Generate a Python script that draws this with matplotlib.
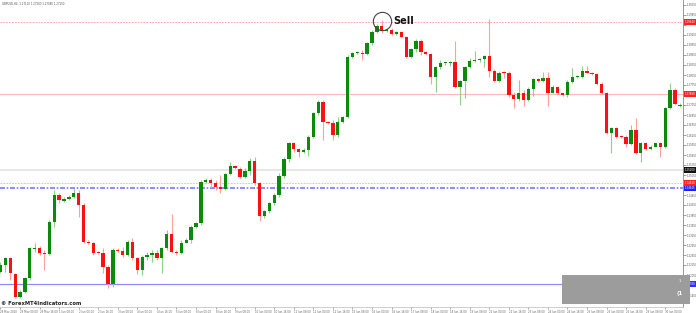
import matplotlib
matplotlib.use("Agg")
import matplotlib.pyplot as plt
import matplotlib.transforms as mtransforms
from matplotlib.patches import Rectangle

# ---------------- data (GBPUSD, H4) ----------------
opens = [1.2215, 1.2235, 1.2255, 1.2208, 1.2140, 1.2155, 1.2195, 1.2283, 1.2287, 1.2272,
         1.2268, 1.2365, 1.2445, 1.2428, 1.2432, 1.2440, 1.2452, 1.2415, 1.2305, 1.2300,
         1.2272, 1.2270, 1.2230, 1.2178, 1.2280, 1.2278, 1.2265, 1.2305, 1.2255, 1.2220,
         1.2260, 1.2265, 1.2272, 1.2255, 1.2285, 1.2328, 1.2275, 1.2270, 1.2302, 1.2310,
         1.2350, 1.2360, 1.2485, 1.2490, 1.2482, 1.2470, 1.2463, 1.2507, 1.2532, 1.2522,
         1.2500, 1.2518, 1.2547, 1.2480, 1.2382, 1.2396, 1.2420, 1.2445, 1.2502, 1.2552,
         1.2602, 1.2582, 1.2575, 1.2580, 1.2620, 1.2690, 1.2725, 1.2665, 1.2660, 1.2625,
         1.2665, 1.2678, 1.2860, 1.2870, 1.2872, 1.2868, 1.2900, 1.2935, 1.2952, 1.2937,
         1.2940, 1.2928, 1.2935, 1.2920, 1.2858, 1.2882, 1.2908, 1.2875, 1.2868, 1.2800,
         1.2828, 1.2840, 1.2842, 1.2845, 1.2768, 1.2787, 1.2828, 1.2848, 1.2850, 1.2852,
         1.2862, 1.2817, 1.2788, 1.2812, 1.2810, 1.2745, 1.2733, 1.2752, 1.2730, 1.2762,
         1.2792, 1.2788, 1.2795, 1.2752, 1.2770, 1.2750, 1.2744, 1.2785, 1.2798, 1.2800,
         1.2818, 1.2812, 1.2808, 1.2778, 1.2752, 1.2632, 1.2645, 1.2620, 1.2618, 1.2598,
         1.2640, 1.2572, 1.2602, 1.2582, 1.2590, 1.2600, 1.2588, 1.2705, 1.2760, 1.2711]
highs = [1.2245, 1.2260, 1.2260, 1.2212, 1.2160, 1.2200, 1.2290, 1.2300, 1.2292, 1.2280,
         1.2370, 1.2460, 1.2450, 1.2440, 1.2445, 1.2465, 1.2460, 1.2420, 1.2310, 1.2305,
         1.2278, 1.2285, 1.2235, 1.2285, 1.2285, 1.2288, 1.2310, 1.2315, 1.2260, 1.2265,
         1.2275, 1.2280, 1.2280, 1.2290, 1.2340, 1.2388, 1.2280, 1.2310, 1.2315, 1.2355,
         1.2365, 1.2490, 1.2495, 1.2497, 1.2490, 1.2505, 1.2512, 1.2545, 1.2535, 1.2530,
         1.2525, 1.2555, 1.2560, 1.2485, 1.2400, 1.2425, 1.2450, 1.2510, 1.2560, 1.2605,
         1.2605, 1.2585, 1.2585, 1.2625, 1.2695, 1.2730, 1.2730, 1.2668, 1.2670, 1.2680,
         1.2682, 1.2865, 1.2875, 1.2876, 1.2880, 1.2905, 1.2940, 1.2958, 1.2970, 1.2945,
         1.2945, 1.2938, 1.2938, 1.2922, 1.2885, 1.2912, 1.2912, 1.2878, 1.2872, 1.2832,
         1.2850, 1.2845, 1.2848, 1.2908, 1.2790, 1.2832, 1.2855, 1.2878, 1.2855, 1.2865,
         1.2972, 1.2822, 1.2817, 1.2817, 1.2817, 1.2755, 1.2790, 1.2760, 1.2770, 1.2795,
         1.2795, 1.2815, 1.2815, 1.2775, 1.2772, 1.2752, 1.2790, 1.2825, 1.2804, 1.2832,
         1.2832, 1.2815, 1.2812, 1.2785, 1.2755, 1.2650, 1.2648, 1.2624, 1.2625, 1.2655,
         1.2675, 1.2605, 1.2605, 1.2595, 1.2602, 1.2605, 1.2710, 1.2780, 1.2765, 1.2720]
lows = [1.2210, 1.2215, 1.2190, 1.2135, 1.2135, 1.2150, 1.2190, 1.2275, 1.2265, 1.2220,
        1.2265, 1.2350, 1.2420, 1.2425, 1.2430, 1.2435, 1.2380, 1.2300, 1.2297, 1.2265,
        1.2268, 1.2210, 1.2165, 1.2170, 1.2275, 1.2260, 1.2262, 1.2250, 1.2208, 1.2205,
        1.2250, 1.2245, 1.2250, 1.2210, 1.2280, 1.2270, 1.2265, 1.2267, 1.2300, 1.2300,
        1.2345, 1.2355, 1.2480, 1.2470, 1.2460, 1.2450, 1.2460, 1.2505, 1.2522, 1.2495,
        1.2495, 1.2505, 1.2475, 1.2368, 1.2375, 1.2392, 1.2415, 1.2440, 1.2495, 1.2545,
        1.2575, 1.2560, 1.2572, 1.2562, 1.2615, 1.2685, 1.2610, 1.2658, 1.2610, 1.2620,
        1.2660, 1.2675, 1.2855, 1.2867, 1.2850, 1.2865, 1.2895, 1.2930, 1.2932, 1.2933,
        1.2925, 1.2925, 1.2918, 1.2855, 1.2855, 1.2875, 1.2865, 1.2865, 1.2778, 1.2755,
        1.2822, 1.2835, 1.2832, 1.2765, 1.2715, 1.2735, 1.2825, 1.2845, 1.2845, 1.2830,
        1.2800, 1.2785, 1.2785, 1.2795, 1.2738, 1.2707, 1.2728, 1.2712, 1.2728, 1.2742,
        1.2785, 1.2785, 1.2712, 1.2750, 1.2748, 1.2742, 1.2740, 1.2780, 1.2795, 1.2795,
        1.2810, 1.2805, 1.2775, 1.2748, 1.2628, 1.2572, 1.2615, 1.2615, 1.2590, 1.2595,
        1.2568, 1.2545, 1.2580, 1.2580, 1.2588, 1.2560, 1.2585, 1.2702, 1.2715, 1.2708]
closes = [1.2235, 1.2255, 1.2210, 1.2140, 1.2155, 1.2195, 1.2285, 1.2287, 1.2272, 1.2268,
          1.2365, 1.2445, 1.2430, 1.2432, 1.2440, 1.2452, 1.2415, 1.2305, 1.2300, 1.2272,
          1.2270, 1.2230, 1.2178, 1.2280, 1.2278, 1.2265, 1.2305, 1.2255, 1.2220, 1.2260,
          1.2265, 1.2272, 1.2255, 1.2285, 1.2328, 1.2275, 1.2270, 1.2302, 1.2310, 1.2350,
          1.2360, 1.2485, 1.2490, 1.2482, 1.2470, 1.2463, 1.2507, 1.2532, 1.2525, 1.2500,
          1.2518, 1.2547, 1.2480, 1.2382, 1.2396, 1.2420, 1.2445, 1.2502, 1.2552, 1.2602,
          1.2582, 1.2575, 1.2580, 1.2620, 1.2690, 1.2725, 1.2665, 1.2660, 1.2625, 1.2665,
          1.2678, 1.2860, 1.2870, 1.2872, 1.2868, 1.2900, 1.2935, 1.2952, 1.2937, 1.2940,
          1.2928, 1.2935, 1.2920, 1.2858, 1.2882, 1.2908, 1.2875, 1.2868, 1.2800, 1.2828,
          1.2840, 1.2842, 1.2845, 1.2768, 1.2787, 1.2828, 1.2848, 1.2850, 1.2852, 1.2862,
          1.2817, 1.2788, 1.2812, 1.2810, 1.2745, 1.2733, 1.2752, 1.2730, 1.2762, 1.2792,
          1.2788, 1.2795, 1.2752, 1.2770, 1.2750, 1.2744, 1.2785, 1.2798, 1.2800, 1.2818,
          1.2812, 1.2808, 1.2778, 1.2752, 1.2632, 1.2645, 1.2620, 1.2618, 1.2598, 1.2640,
          1.2572, 1.2602, 1.2582, 1.2590, 1.2600, 1.2588, 1.2705, 1.2760, 1.2718, 1.2715]

date_labels = ["28 May 2020", "29 May 00:00", "29 May 16:00", "1 Jun 08:00", "2 Jun 00:00",
               "2 Jun 16:00", "3 Jun 08:00", "4 Jun 00:00", "4 Jun 16:00", "5 Jun 08:00",
               "8 Jun 00:00", "8 Jun 16:00", "9 Jun 08:00", "10 Jun 00:00", "10 Jun 16:00",
               "11 Jun 08:00", "12 Jun 00:00", "12 Jun 16:00", "15 Jun 08:00", "16 Jun 00:00",
               "16 Jun 16:00", "17 Jun 08:00", "18 Jun 00:00", "18 Jun 16:00", "19 Jun 08:00",
               "22 Jun 00:00", "22 Jun 16:00", "23 Jun 08:00", "24 Jun 00:00", "24 Jun 16:00",
               "25 Jun 08:00", "26 Jun 00:00", "26 Jun 16:00", "29 Jun 08:00", "30 Jun 00:00"]
label_step = 4

price_ticks = [1.3015, 1.2985, 1.2955, 1.2925, 1.2895, 1.2865, 1.2835, 1.2805, 1.2775,
               1.2745, 1.2715, 1.2685, 1.2655, 1.2625, 1.2595, 1.2565, 1.2535, 1.2505,
               1.2475, 1.2445, 1.2415, 1.2385, 1.2355, 1.2325, 1.2295, 1.2265, 1.2235,
               1.2205, 1.2175, 1.2145]

# horizontal levels
level_prices = [1.2964, 1.2748, 1.2520, 1.2481, 1.24645, 1.2178]
level_colors = ["#ff9a9a", "#ffb8b8", "#e6e6e6", "#ffa8a8", "#7878ff", "#8c8cff"]
level_styles = [(0, (2, 1.5)), "-", "-", (0, (2, 1.5)), (0, (3, 1, 1, 1)), "-"]
level_widths = [0.6, 0.8, 1.4, 0.6, 1.2, 0.9]
level_box = ["#ff2020", "#ff2020", "#111111", "#ff2020", "#2020ff", "#3030ff"]

sell_index = 78
sell_price = 1.29655

# ---------------- figure ----------------
W, H = 696, 313
fig = plt.figure(figsize=(W / 100, H / 100), dpi=100)
fig.patch.set_facecolor("white")
ax = fig.add_axes([0, 6 / H, 683 / W, 307 / H])
ax.set_facecolor("white")

n = len(opens)
ax.set_xlim(-0.102, 139.63)
ax.set_ylim(1.2109, 1.3030)

for p, c, s, w in zip(level_prices, level_colors, level_styles, level_widths):
    ax.axhline(p, color=c, linestyle=s, linewidth=w, zorder=1)

min_body = 0.00028
for i in range(n):
    o, h, l, c = opens[i], highs[i], lows[i], closes[i]
    up = c >= o
    body_c = "#0b8a0b" if up else "#ff1010"
    wick_c = "#8fd08f" if up else "#ffa0a0"
    ax.vlines(i, l, h, color=wick_c, linewidth=0.8, zorder=2)
    bot = min(o, c)
    ht = max(abs(c - o), min_body)
    ax.bar(i, ht, bottom=bot, width=0.68, color=body_c, linewidth=0, zorder=3)

ax.plot([sell_index], [sell_price], marker="o", markersize=13.2, markerfacecolor="none",
        markeredgecolor="#444444", markeredgewidth=0.8, zorder=5)
ax.text(sell_index + 2.25, sell_price, "Sell", fontsize=7, fontweight="bold",
        color="#111111", va="center", ha="left", zorder=6)

ax.text(0.003, 0.988, "GBPUSD,H4  %.5f %.5f %.5f %.5f" % (opens[-1], highs[-1], lows[-1], closes[-1]),
        transform=ax.transAxes, fontsize=1.9, color="#555555", va="center", ha="left")

for side in ["top", "left"]:
    ax.spines[side].set_visible(False)
ax.spines["right"].set_color("#888888")
ax.spines["right"].set_linewidth(0.6)
ax.spines["bottom"].set_color("#bbbbbb")
ax.spines["bottom"].set_linewidth(0.5)

# price scale: labels hidden under the level boxes are left blank
tick_texts = []
for p in price_ticks:
    hidden = any(abs(p - lp) < 0.0012 for lp in level_prices)
    tick_texts.append("" if hidden else "%.5f" % p)
ax.yaxis.tick_right()
ax.set_yticks(price_ticks)
ax.set_yticklabels(tick_texts)
ax.tick_params(axis="y", which="both", length=2, width=0.4, colors="#555555",
               labelsize=1.9, pad=0.8)

xt = [k * label_step for k in range(len(date_labels))]
ax.set_xticks(xt)
ax.set_xticklabels(date_labels, ha="left")
ax.tick_params(axis="x", which="both", length=1.5, width=0.4, colors="#666666",
               labelsize=1.9, pad=0.4)

trans = mtransforms.blended_transform_factory(ax.transAxes, ax.transData)
for p, bc in zip(level_prices, level_box):
    ax.text(1.003, p, "%.5f" % p, transform=trans, fontsize=1.9, color="white",
            va="center", ha="left", clip_on=False, zorder=7,
            bbox=dict(boxstyle="square,pad=0.25", facecolor=bc, edgecolor="none"))

fig.patches.append(Rectangle((562 / W, (H - 304) / H), 128 / W, 29 / H,
                             transform=fig.transFigure, facecolor="#9c9c9c",
                             edgecolor="none", zorder=10))
fig.text(680 / W, (H - 281) / H, "1", fontsize=3, color="white", ha="center",
         va="center", zorder=11)
fig.text(680 / W, (H - 294) / H, "(1", fontsize=4, color="white", ha="center",
         va="center", zorder=11, fontweight="bold")

fig.text(1 / W, (H - 303.5) / H, "\u00a9 ForexMT4Indicators.com", fontsize=3.8,
         fontweight="bold", color="#222222", ha="left", va="center", zorder=12)

fig.savefig("out.png", dpi=100, facecolor="white")
